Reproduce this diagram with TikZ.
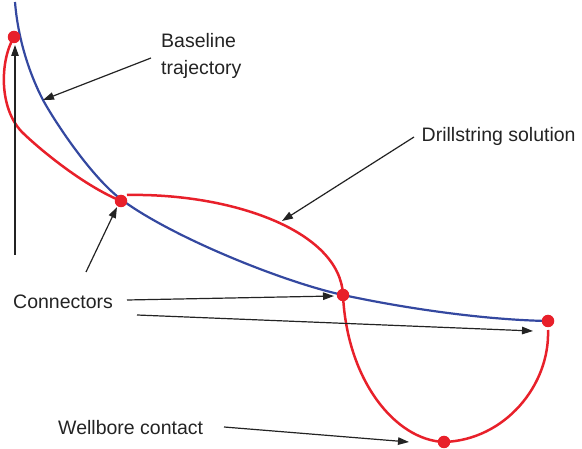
\documentclass[tikz,border=0pt]{standalone}
\usepackage{fontspec}
\setmainfont{Liberation Sans}
\usetikzlibrary{arrows.meta}
\definecolor{redc}{RGB}{232,32,42}
\definecolor{bluec}{RGB}{52,72,160}
\definecolor{arrc}{RGB}{35,35,35}
\tikzset{
  lbl/.style={inner sep=0pt, anchor=base west, font=\fontsize{19.5}{27}\selectfont, text=arrc},
  pointer/.style={draw=arrc, line width=1.2pt, -{Triangle[length=11pt,width=7.5pt]}},
  dot/.style={circle, fill=redc, inner sep=0pt, minimum size=12.5pt},
  basecurve/.style={draw=bluec, line width=2.2pt},
  drillcurve/.style={draw=redc, line width=2.5pt},
}
\begin{document}
\begin{tikzpicture}[x=1pt,y=-1pt]
\useasboundingbox (0,0) rectangle (582,449);
% blue baseline trajectory
\draw[basecurve] (15,2) .. controls (18,40) and (30,75) .. (43,100)
  .. controls (55,122) and (92,178) .. (122,200)
  .. controls (172,237) and (283,282) .. (343,295)
  .. controls (413,310) and (490,320) .. (548,321);
% red drillstring solution
\draw[drillcurve] (14,37) .. controls (0,60) and (-2,110) .. (24,134)
  .. controls (44,153) and (85,186) .. (121,201);
\draw[drillcurve] (127,195) .. controls (230,193) and (340,230) .. (343,295)
  .. controls (347,380) and (395,440) .. (444,442)
  .. controls (505,440) and (550,385) .. (548,330);
% connector dots
\node[dot] (c1) at (14,37) {};
\node[dot] (c2) at (121,201) {};
\node[dot] (c3) at (343,295) {};
\node[dot] (c4) at (548,321) {};
\node[dot] (wc) at (444,442) {};
% labels
\node[lbl, align=left] (lbase) at (161,75) {Baseline\\trajectory};
\node[lbl] (ldrill) at (421.5,142) {Drillstring solution};
\node[lbl] (lconn) at (13,309) {Connectors};
\node[lbl] (lwell) at (58,435) {Wellbore contact};
% pointer coordinates
\coordinate (bs) at (151,58);  \coordinate (bt) at (43,100);
\coordinate (ds) at (414,137); \coordinate (dt) at (282,221);
\coordinate (v0) at (15,255);  \coordinate (v1) at (15,45);
\coordinate (k1s) at (86,272); \coordinate (k1t) at (117,207);
\coordinate (k2s) at (127,300);\coordinate (k2t) at (334,296);
\coordinate (k3s) at (137,315);\coordinate (k3t) at (533,331);
\coordinate (ws) at (224,427); \coordinate (wt) at (409,442);
\draw[pointer] (bs) -- (bt);
\draw[pointer] (ds) -- (dt);
\draw[pointer] (v0) -- (v1);
\draw[pointer] (k1s) -- (k1t);
\draw[pointer] (k2s) -- (k2t);
\draw[pointer] (k3s) -- (k3t);
\draw[pointer] (ws) -- (wt);
\end{tikzpicture}
\end{document}
